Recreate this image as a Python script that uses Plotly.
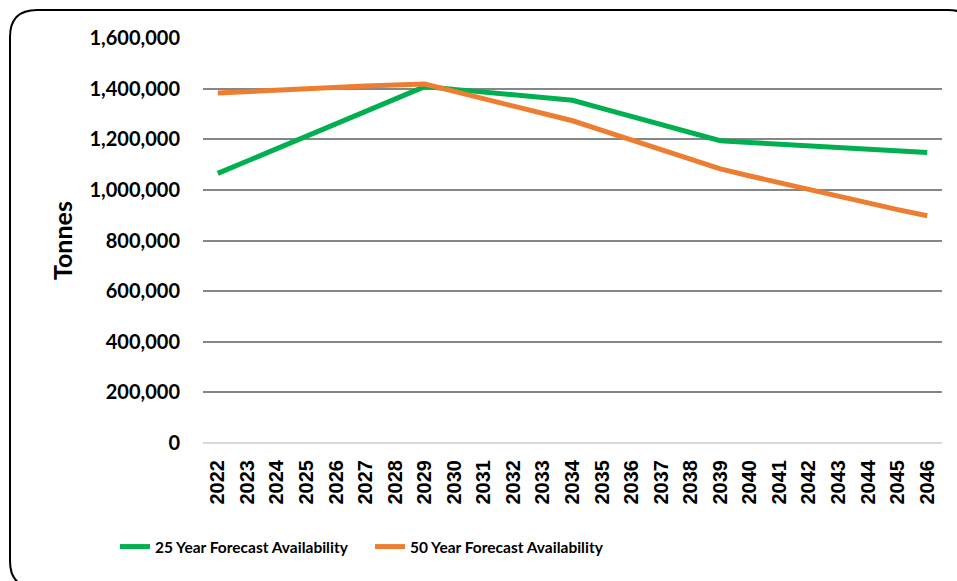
import plotly.graph_objects as go

years = [str(y) for y in range(2022, 2047)]

forecast_25yr = [1065000, 1114000, 1163000, 1212000, 1261000, 1310000, 1360000, 1408000,
                 1397000, 1386000, 1375000, 1365000, 1354000, 1322000, 1290000, 1258000,
                 1226000, 1194000, 1187000, 1180000, 1173000, 1166000, 1160000, 1154000,
                 1148000]

forecast_50yr = [1383000, 1389000, 1395000, 1400000, 1405000, 1410000, 1414000, 1418000,
                 1389000, 1360000, 1331000, 1302000, 1273000, 1235000, 1197000, 1159000,
                 1121000, 1083000, 1055000, 1028000, 1000000, 974000, 947000, 922000,
                 898000]

y_ticks = list(range(0, 1600001, 200000))

W, H = 957, 581
L, R, T, B = 203, 15, 38, 138
pw, ph = W - L - R, H - T - B


def px(x):
    return (x - L) / pw


def py(y):
    return (H - B - y) / ph


fig = go.Figure()
fig.add_trace(go.Scatter(
    x=years, y=forecast_25yr, mode="lines", name="25 Year Forecast Availability",
    line=dict(color="#00B050", width=5), legend="legend"))
fig.add_trace(go.Scatter(
    x=years, y=forecast_50yr, mode="lines", name="50 Year Forecast Availability",
    line=dict(color="#ED7D31", width=5), legend="legend2"))

# rounded outer frame (partly running off the page at right and bottom)
r = 27
x0, y0, x1, y1 = 10, 10, 975, 588
path = (
    f"M {px(x0)},{py(y0 + r)} "
    f"Q {px(x0)},{py(y0)} {px(x0 + r)},{py(y0)} "
    f"L {px(x1 - r)},{py(y0)} "
    f"Q {px(x1)},{py(y0)} {px(x1)},{py(y0 + r)} "
    f"L {px(x1)},{py(y1 - r)} "
    f"Q {px(x1)},{py(y1)} {px(x1 - r)},{py(y1)} "
    f"L {px(x0 + r)},{py(y1)} "
    f"Q {px(x0)},{py(y1)} {px(x0)},{py(y1 - r)} Z"
)
fig.add_shape(type="path", path=path, xref="paper", yref="paper",
              line=dict(color="black", width=2), layer="above")

fig.add_annotation(text="<b>Tonnes</b>", x=px(62), y=py(241), xref="paper", yref="paper",
                   xanchor="center", yanchor="middle", textangle=-90, showarrow=False,
                   font=dict(family="Lato", size=25, color="black"))

legend_font = dict(family="Lato", size=15.5, color="black", weight="bold")

fig.update_layout(
    width=W, height=H,
    margin=dict(l=L, r=R, t=T, b=B),
    paper_bgcolor="white", plot_bgcolor="white",
    xaxis=dict(type="category", tickangle=-90, showgrid=False, showline=False,
               ticks="", ticklabelstandoff=12,
               tickfont=dict(family="Liberation Sans", size=20, color="black", weight="bold"),
               range=[-0.5, len(years) - 0.5]),
    yaxis=dict(range=[0, 1600000], tickvals=y_ticks, tickformat=",d",
               showgrid=True, gridcolor="#868686", gridwidth=1.5,
               zeroline=True, zerolinecolor="#d9d9d9", zerolinewidth=2,
               showline=False, ticks="", ticklabelstandoff=22,
               tickfont=dict(family="Lato", size=20, color="black", weight="bold")),
    legend=dict(x=px(115), y=py(547), xanchor="left", yanchor="middle",
                font=legend_font, bgcolor="rgba(0,0,0,0)"),
    legend2=dict(x=px(370), y=py(547), xanchor="left", yanchor="middle",
                 font=legend_font, bgcolor="rgba(0,0,0,0)"),
    showlegend=True,
)

fig.write_html("out.html")
